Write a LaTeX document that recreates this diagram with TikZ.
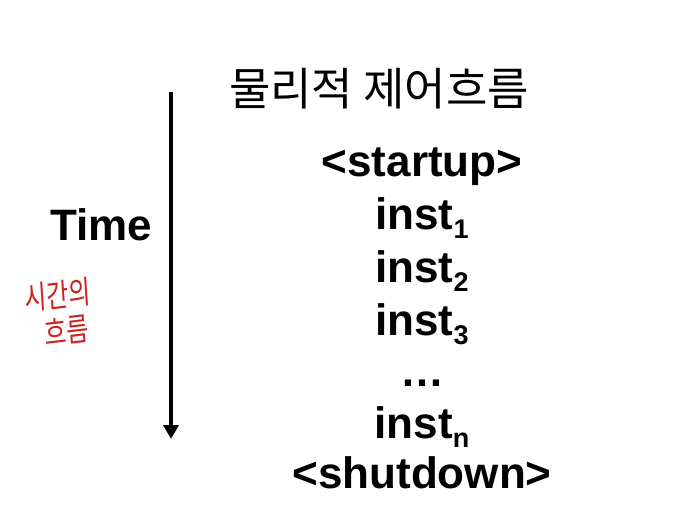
\documentclass[tikz,border=0pt]{standalone}
\usepackage{fontspec}
\setmainfont{Liberation Sans}
\newfontfamily\kor{Noto Sans CJK KR}
\usetikzlibrary{arrows.meta}
\definecolor{handred}{RGB}{205,35,30}
\tikzset{
  big/.style={font=\bfseries\fontsize{44}{50}\selectfont, inner sep=0, anchor=base},
  ttl/.style={font=\kor\fontsize{45}{50}\selectfont, inner sep=0},
  hand/.style={font=\kor\fontsize{32}{34}\selectfont, text=handred, inner sep=0, xscale=0.75},
  timearrow/.style={line width=4.5pt, -{Triangle[length=14pt,width=15pt]}}
}
\newcommand{\sbs}[1]{\raisebox{-9pt}{\fontsize{27}{27}\selectfont #1}}
\begin{document}
\begin{tikzpicture}[x=1pt,y=-1pt]
\useasboundingbox (0,0) rectangle (700,520);
\fill[white] (0,0) rectangle (700,520);
\node[ttl] (title) at (379,89) {물리적 제어흐름};
\coordinate (atop) at (171,92);
\coordinate (abot) at (171,439);
\draw[timearrow] (atop) -- (abot);
\node[big] (time) at (101,240) {Time};
\node[hand, rotate=5] (h1) at (58,295) {시간의};
\node[hand, rotate=5] (h2) at (67,331) {흐름};
\node[big] (s) at (422,176) {<startup>};
\node[big] (i1) at (422,229) {inst\sbs{1}};
\node[big] (i2) at (422,282) {inst\sbs{2}};
\node[big] (i3) at (422,335) {inst\sbs{3}};
\node[big] (dots) at (422,386) {…};
\node[big] (in) at (422,438) {inst\sbs{n}};
\node[big] (e) at (422,488) {<shutdown>};
\end{tikzpicture}
\end{document}
